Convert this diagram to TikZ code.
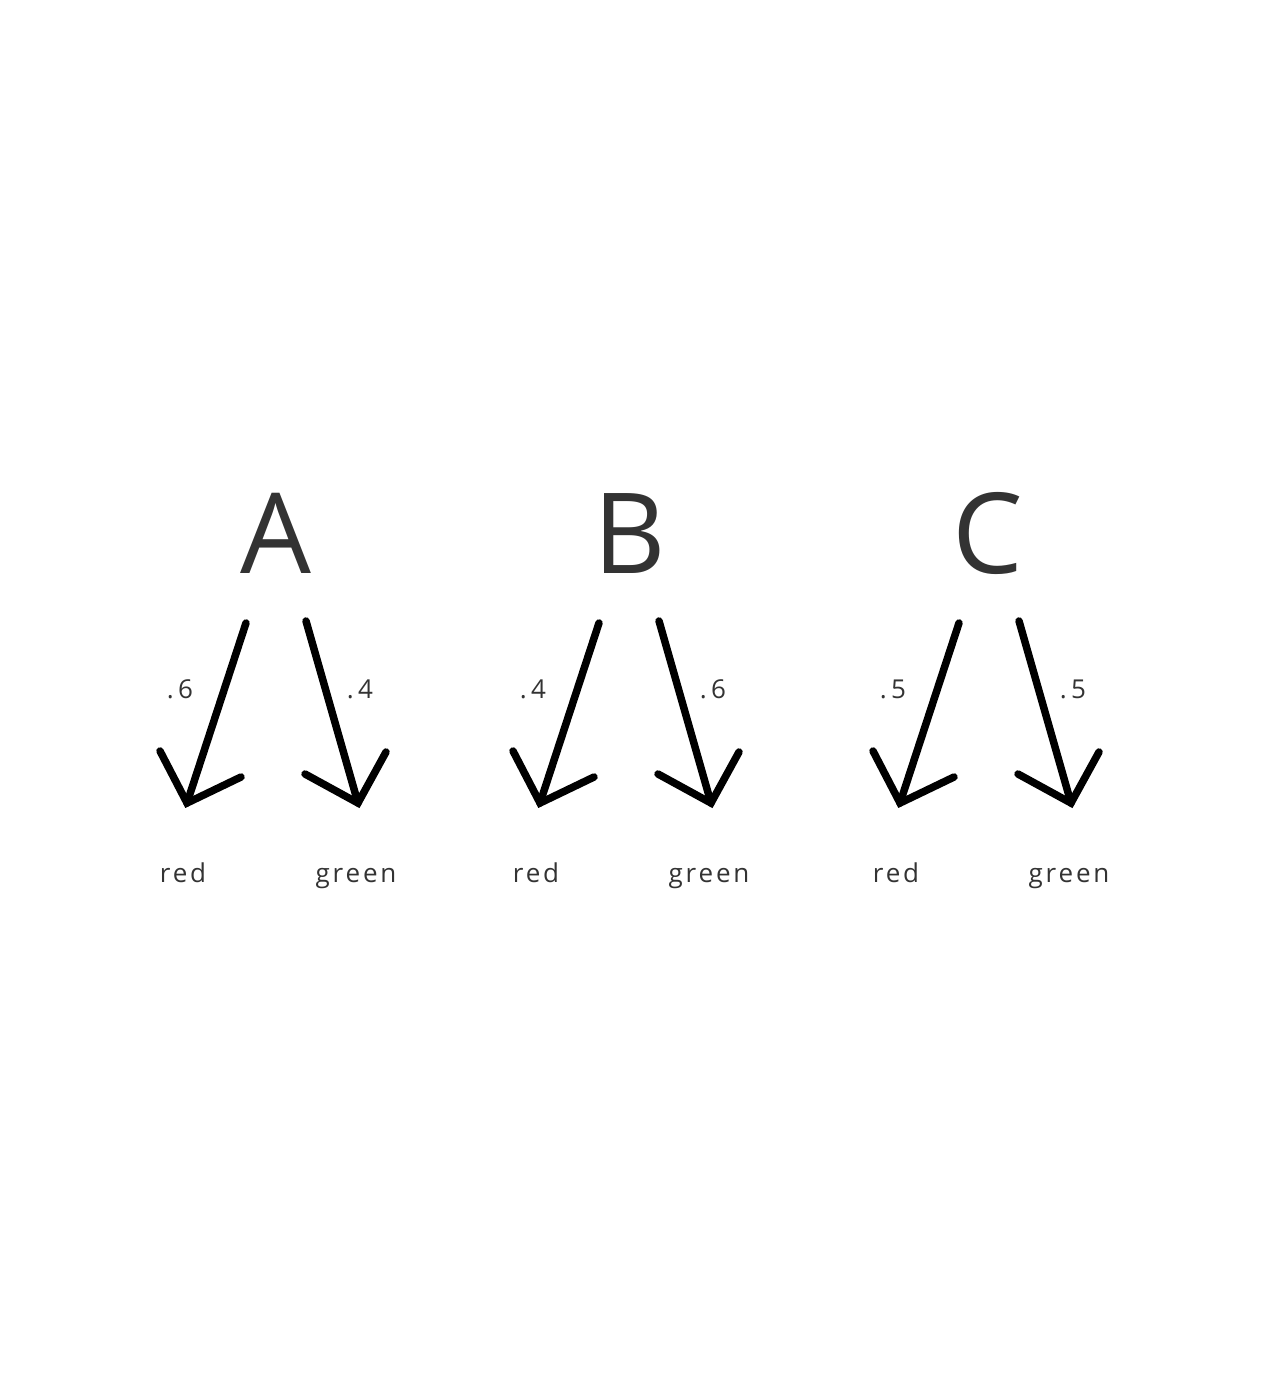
\documentclass[tikz,border=0pt]{standalone}
\usepackage{fontspec}
\setmainfont{Open Sans}
\newfontfamily\spacedfont[LetterSpace=11]{Open Sans}
\definecolor{ink}{HTML}{333333}
\begin{document}
\begin{tikzpicture}[x=1pt,y=-1pt,
  big/.style={font=\fontsize{112}{112}\selectfont, text=ink, inner sep=0pt, anchor=base},
  lab/.style={font=\spacedfont\fontsize{26}{26}\selectfont, text=ink, inner sep=0pt, anchor=base},
  shaft/.style={line width=7.5pt, line cap=round, line join=miter, black}]
\useasboundingbox (0,0) rectangle (1260,1388);
\fill[white] (0,0) rectangle (1260,1388);
% group letters
\node[big] (A) at (276,573) {A};
\node[big] (B) at (630,573) {B};
\node[big] (C) at (988,573) {C};
% arrow coordinates
\foreach \g/\dx in {a/0,b/353,c/713}{
  \coordinate (\g ls) at (246+\dx,623);
  \coordinate (\g le) at (187+\dx,803);
  \coordinate (\g rs) at (306+\dx,621);
  \coordinate (\g re) at (358+\dx,803);
}
\foreach \g in {a,b,c}{
  \draw[shaft] (\g ls) -- (\g le);
  \draw[shaft] ([shift={(-27,-52)}]\g le) -- (\g le) -- ([shift={(54,-26)}]\g le);
  \draw[shaft] (\g rs) -- (\g re);
  \draw[shaft] ([shift={(-53,-29)}]\g re) -- (\g re) -- ([shift={(28,-51)}]\g re);
}
% probabilities
\node[lab] (pa1) at (180,698) {.\,6};
\node[lab] (pa2) at (360,698) {.\,4};
\node[lab] (pb1) at (533,698) {.\,4};
\node[lab] (pb2) at (713,698) {.\,6};
\node[lab] (pc1) at (893,698) {.\,5};
\node[lab] (pc2) at (1073,698) {.\,5};
% outcomes
\node[lab] (ra) at (183,882) {red};
\node[lab] (ga) at (356,882) {green};
\node[lab] (rb) at (536,882) {red};
\node[lab] (gb) at (709,882) {green};
\node[lab] (rc) at (896,882) {red};
\node[lab] (gc) at (1069,882) {green};
\end{tikzpicture}
\end{document}
